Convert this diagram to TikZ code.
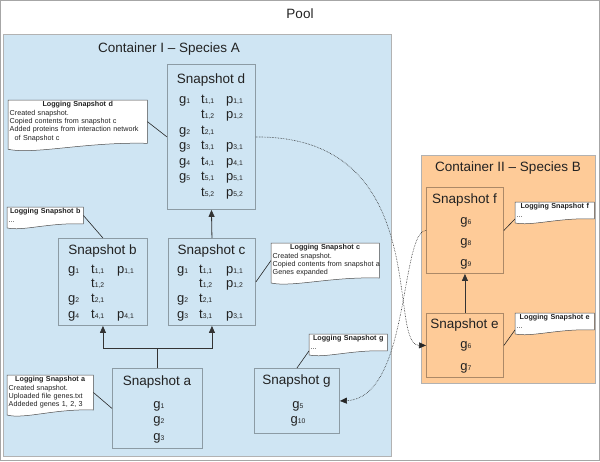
\documentclass[tikz,border=0pt]{standalone}
\usepackage{fontspec}
\setmainfont{Liberation Sans}
\usetikzlibrary{arrows.meta,calc}
\definecolor{contA}{HTML}{CFE5F3}
\definecolor{contB}{HTML}{FECB98}
\definecolor{txt}{HTML}{222222}
\pgfdeclarelayer{back}
\pgfdeclarelayer{mid}
\pgfsetlayers{back,mid,main}
\newcommand\sbs[1]{\raisebox{-0.4pt}{\fontsize{6.8}{7}\selectfont #1}}
\newcommand\sv[2]{#1\sbs{#2}}
\newcommand\ntitle[1]{\makebox[\linewidth][c]{\bfseries #1}}
\newcommand\docshape[2]{\begin{pgfonlayer}{mid}\draw[notebd] (#1.north west) -- (#1.north east) -- (#1.south east) .. controls ($(#1.south east)!0.45!(#1.south west)+(0,-1.5)$) and ($(#1.south east)!0.8!(#1.south west)+(0,#2*1.9)$) .. ($(#1.south west)+(0,#2)$) -- cycle;\end{pgfonlayer}}
\begin{document}
\begin{tikzpicture}[x=1pt,y=-1pt,
  snap/.style={draw=black, draw opacity=0.32, line width=0.9pt, inner sep=0pt, anchor=north west},
  title/.style={anchor=base, inner sep=0pt, text=txt, font=\fontsize{13.5}{14}\selectfont},
  cell/.style={anchor=base west, inner sep=0pt, text=txt, font=\fontsize{13}{13}\selectfont},
  ccell/.style={anchor=base, inner sep=0pt, text=txt, font=\fontsize{13}{13}\selectfont},
  note/.style={anchor=north west, inner xsep=1.5pt, inner ysep=1.5pt, align=left, text=txt, font=\fontsize{7.2}{8.3}\selectfont},
  notebd/.style={draw=black!70, fill=white, line width=0.5pt},
  lnk/.style={draw=black!85, line width=0.6pt},
  arr/.style={draw=black!80, line width=0.8pt, -{Triangle[length=7pt,width=6pt]}},
  dotarr/.style={draw=black!85, line width=0.6pt, densely dotted, -{Triangle[length=7pt,width=6pt]}}
]
\useasboundingbox (0,0) rectangle (600,461);
\begin{pgfonlayer}{back}
\draw[draw=black!35, line width=1pt] (0.5,0.5) rectangle (599.5,460.5);
\draw[fill=contA, draw=black!30, line width=0.8pt] (3.5,34) rectangle (391,456);
\draw[fill=contB, draw=black!30, line width=0.8pt] (421,155) rectangle (595.5,383.5);
\end{pgfonlayer}
\node[title] (pool) at (300,18.5) {Pool};
\node[title] (contAt) at (169,52.5) {Container I -- Species A};
\node[title] (contBt) at (508,171.5) {Container II -- Species B};

% snapshots
\node[snap, minimum width=88pt, minimum height=145pt] (d) at (167,64) {};
\node[snap, minimum width=89pt, minimum height=87pt] (b) at (58,238) {};
\node[snap, minimum width=87pt, minimum height=87pt] (c) at (168,238) {};
\node[snap, minimum width=90pt, minimum height=80pt] (a) at (112,368) {};
\node[snap, minimum width=85pt, minimum height=65pt] (g) at (254,368) {};
\node[snap, minimum width=77pt, minimum height=86pt] (f) at (426,187) {};
\node[snap, minimum width=77pt, minimum height=64pt] (e) at (426,313) {};

\node[title] (dt) at (211,83) {Snapshot d};
\node[title] (bt) at (102.5,254) {Snapshot b};
\node[title] (ct) at (211.5,254) {Snapshot c};
\node[title] (at) at (157,385) {Snapshot a};
\node[title] (gt) at (296.5,384) {Snapshot g};
\node[title] (ft) at (464.5,203) {Snapshot f};
\node[title] (et) at (464.5,328) {Snapshot e};

% snapshot d
\node[cell] (d11) at (179,103) {\sv{g}{1}};
\node[cell] (d12) at (201,103) {\sv{t}{1,1}};
\node[cell] (d13) at (226,103) {\sv{p}{1,1}};
\node[cell] (d22) at (201,118.5) {\sv{t}{1,2}};
\node[cell] (d23) at (226,118.5) {\sv{p}{1,2}};
\node[cell] (d31) at (179,134) {\sv{g}{2}};
\node[cell] (d32) at (201,134) {\sv{t}{2,1}};
\node[cell] (d41) at (179,149.5) {\sv{g}{3}};
\node[cell] (d42) at (201,149.5) {\sv{t}{3,1}};
\node[cell] (d43) at (226,149.5) {\sv{p}{3,1}};
\node[cell] (d51) at (179,165) {\sv{g}{4}};
\node[cell] (d52) at (201,165) {\sv{t}{4,1}};
\node[cell] (d53) at (226,165) {\sv{p}{4,1}};
\node[cell] (d61) at (179,180.5) {\sv{g}{5}};
\node[cell] (d62) at (201,180.5) {\sv{t}{5,1}};
\node[cell] (d63) at (226,180.5) {\sv{p}{5,1}};
\node[cell] (d72) at (201,196) {\sv{t}{5,2}};
\node[cell] (d73) at (226,196) {\sv{p}{5,2}};

% snapshot b
\node[cell] (b11) at (68,273) {\sv{g}{1}};
\node[cell] (b12) at (91,273) {\sv{t}{1,1}};
\node[cell] (b13) at (117,273) {\sv{p}{1,1}};
\node[cell] (b22) at (91,287.5) {\sv{t}{1,2}};
\node[cell] (b31) at (68,302.5) {\sv{g}{2}};
\node[cell] (b32) at (91,302.5) {\sv{t}{2,1}};
\node[cell] (b41) at (68,318) {\sv{g}{4}};
\node[cell] (b42) at (91,318) {\sv{t}{4,1}};
\node[cell] (b43) at (117,318) {\sv{p}{4,1}};

% snapshot c
\node[cell] (c11) at (177,273) {\sv{g}{1}};
\node[cell] (c12) at (199,273) {\sv{t}{1,1}};
\node[cell] (c13) at (226,273) {\sv{p}{1,1}};
\node[cell] (c22) at (199,287.5) {\sv{t}{1,2}};
\node[cell] (c23) at (226,287.5) {\sv{p}{1,2}};
\node[cell] (c31) at (177,302.5) {\sv{g}{2}};
\node[cell] (c32) at (199,302.5) {\sv{t}{2,1}};
\node[cell] (c41) at (177,318) {\sv{g}{3}};
\node[cell] (c42) at (199,318) {\sv{t}{3,1}};
\node[cell] (c43) at (226,318) {\sv{p}{3,1}};

% snapshot a, g, f, e
\node[ccell] (a1) at (159,408) {\sv{g}{1}};
\node[ccell] (a2) at (159,423.5) {\sv{g}{2}};
\node[ccell] (a3) at (159,440) {\sv{g}{3}};
\node[ccell] (g1) at (298,408) {\sv{g}{5}};
\node[ccell] (g2) at (298,423.5) {\sv{g}{10}};
\node[ccell] (f1) at (466,224) {\sv{g}{6}};
\node[ccell] (f2) at (466,245) {\sv{g}{8}};
\node[ccell] (f3) at (466,266) {\sv{g}{9}};
\node[ccell] (e1) at (466,348) {\sv{g}{6}};
\node[ccell] (e2) at (466,370) {\sv{g}{7}};

% notes
\node[note, text width=136pt] (ld) at (8,100) {\ntitle{Logging Snapshot d}\\Created snapshot.\\Copied contents from snapshot c\\Added proteins from interaction network\\\hspace*{5pt}of Snapshot c};
\docshape{ld}{6}
\node[note, text width=73pt] (lb) at (7,207) {\ntitle{Logging Snapshot b}\\...};
\docshape{lb}{4}
\node[note, text width=105pt] (lc) at (271,243) {\ntitle{Logging Snapshot c}\\Created snapshot.\\\mbox{Copied contents from snapshot a}\\Genes expanded};
\docshape{lc}{5}
\node[note, text width=83pt] (la) at (7,375) {\ntitle{Logging Snapshot a}\\Created snapshot.\\Uploaded file genes.txt\\Addeded genes 1, 2, 3};
\docshape{la}{5}
\node[note, text width=75pt] (lg) at (309,334) {\ntitle{Logging Snapshot g}\\...};
\docshape{lg}{4}
\node[note, text width=76pt] (lf) at (515,202) {\ntitle{Logging Snapshot f}\\...};
\docshape{lf}{4}
\node[note, text width=76pt] (le) at (515,313) {\ntitle{Logging Snapshot e}\\...};
\docshape{le}{4}

% note links
\draw[lnk] (ld.east) -- (d.west);
\draw[lnk] (lb.east) -- (b.north);
\draw[lnk] (c.east) -- (lc.west);
\draw[lnk] (la.east) -- (a.west);
\draw[lnk] (g.north) -- (lg.south west);
\draw[lnk] (f.east) -- (lf.south west);
\draw[lnk] (e.east) -- (le.south west);

% arrows
\draw[arr] (c.north) -- (d.south);
\draw[arr] (a.north) -- ++(0,-20) -| (b.south);
\draw[arr] (a.north) -- ++(0,-20) -| (c.south);
\draw[arr] (e.north) -- (f.south);
\draw[dotarr] (d.east) .. controls (435,136) and (386,345) .. (e.west);
\draw[dotarr] (f.west) .. controls (400,232) and (410,398) .. (g.east);
\end{tikzpicture}
\end{document}
